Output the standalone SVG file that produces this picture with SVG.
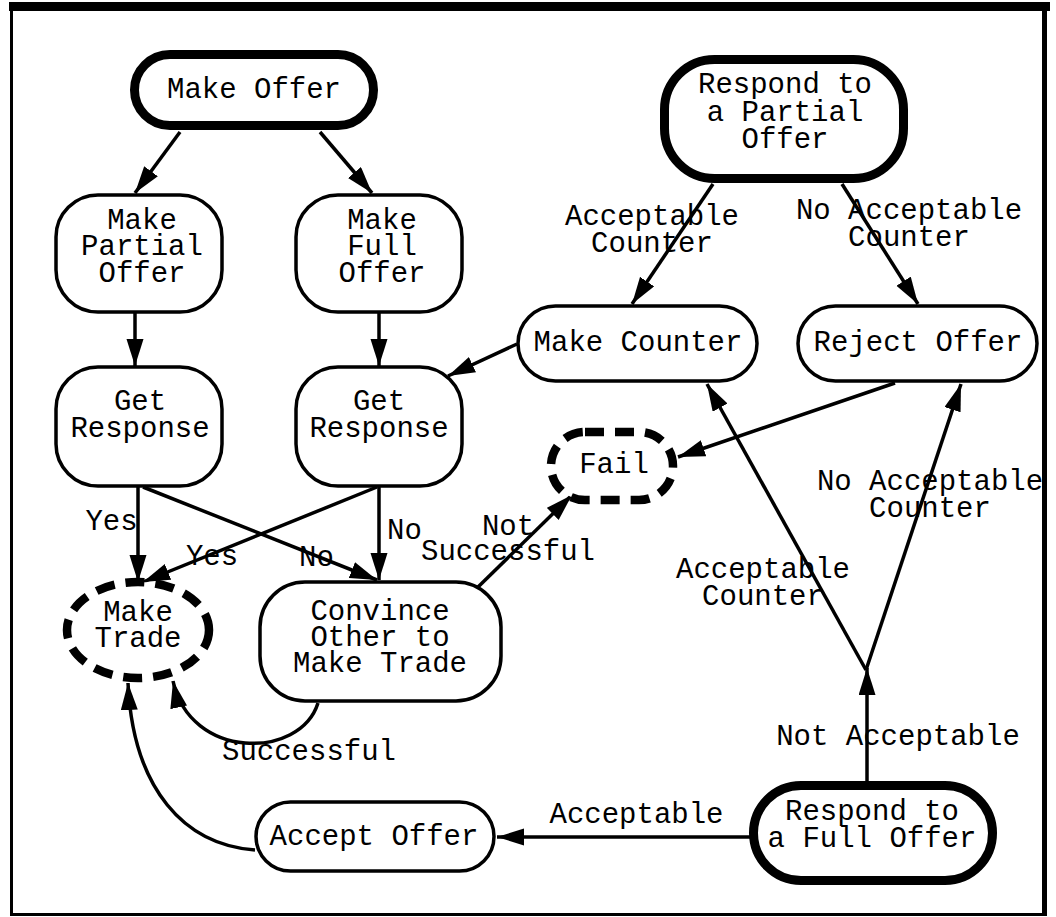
<svg xmlns="http://www.w3.org/2000/svg" width="1056" height="917" viewBox="0 0 1056 917">
<defs>
<style>
.t{font-family:"Liberation Mono","Courier New",monospace;font-size:29px;fill:#000;text-anchor:middle}
.n{fill:#fff;stroke:#000;stroke-width:3.5}
.b{fill:#fff;stroke:#000;stroke-width:9}
.d{fill:#fff;stroke:#000;stroke-width:8.5;stroke-dasharray:19 11}
.c{fill:none;stroke:#000;stroke-width:3.5}
</style>
<marker id="ah" markerUnits="userSpaceOnUse" markerWidth="28" markerHeight="18" refX="27" refY="8.5" orient="auto" viewBox="0 0 28 18">
<path d="M0,0 L27,8.5 L0,17 z" fill="#000"/>
</marker>
</defs>
<rect x="0" y="0" width="1056" height="917" fill="#fff"/>
<g id="frame">
<rect x="11.5" y="8" width="1032" height="906.5" fill="none" stroke="#000" stroke-width="3"/>
<rect x="9" y="2" width="1041" height="9" fill="#000"/>
<rect x="1042" y="2" width="5" height="914" fill="#000"/>
</g>
<g id="connectors">
<path class="c" marker-end="url(#ah)" d="M180,132 L135,193"/>
<path class="c" marker-end="url(#ah)" d="M320,132 L372,193"/>
<path class="c" marker-end="url(#ah)" d="M135,313 L135,366"/>
<path class="c" marker-end="url(#ah)" d="M379,313 L379,366"/>
<path class="c" marker-end="url(#ah)" d="M138,487 L138,582"/>
<path class="c" marker-end="url(#ah)" d="M143,487 L377,580"/>
<path class="c" marker-end="url(#ah)" d="M377,487 L143,582"/>
<path class="c" marker-end="url(#ah)" d="M379,487 L379,580"/>
<path class="c" marker-end="url(#ah)" d="M477,588 L572,495"/>
<path class="c" marker-end="url(#ah)" d="M318,703 C300,760 190,760 173,681"/>
<path class="c" marker-end="url(#ah)" d="M713,184 L632,304"/>
<path class="c" marker-end="url(#ah)" d="M842,184 L918,304"/>
<path class="c" marker-end="url(#ah)" d="M517,344 L448,376"/>
<path class="c" marker-end="url(#ah)" d="M895,383 L678,457"/>
<path class="c" marker-end="url(#ah)" d="M867,782 L867,668"/>
<path class="c" marker-end="url(#ah)" d="M866,670 L707,384"/>
<path class="c" marker-end="url(#ah)" d="M866,670 L961,384"/>
<path class="c" marker-end="url(#ah)" d="M750,837 L497,837"/>
<path class="c" marker-end="url(#ah)" d="M255,850 C185,845 133,790 128,683"/>
<text class="t" x="111.5" y="530">Yes</text>
<text class="t" x="212" y="565">Yes</text>
<text class="t" x="316.5" y="566">No</text>
<text class="t" x="404.5" y="539">No</text>
<text class="t" x="508" y="535">Not</text>
<text class="t" x="508" y="560">Successful</text>
<text class="t" x="309" y="760">Successful</text>
<text class="t" x="652" y="225">Acceptable</text>
<text class="t" x="652" y="252">Counter</text>
<text class="t" x="909" y="219">No Acceptable</text>
<text class="t" x="909" y="246">Counter</text>
<text class="t" x="930" y="490">No Acceptable</text>
<text class="t" x="930" y="517">Counter</text>
<text class="t" x="763" y="578">Acceptable</text>
<text class="t" x="763" y="605">Counter</text>
<text class="t" x="898" y="745">Not Acceptable</text>
<text class="t" x="636.5" y="823">Acceptable</text>
</g>
<g id="make-offer">
<rect class="b" x="134.5" y="54.5" width="239" height="71" rx="35.5"/>
<text class="t" x="254" y="98">Make Offer</text>
</g>
<g id="make-partial-offer">
<rect class="n" x="56" y="195" width="166" height="117" rx="42"/>
<text class="t" x="142" y="229">Make</text>
<text class="t" x="142" y="255">Partial</text>
<text class="t" x="142" y="282">Offer</text>
</g>
<g id="make-full-offer">
<rect class="n" x="296" y="195" width="166" height="117" rx="42"/>
<text class="t" x="382" y="229">Make</text>
<text class="t" x="382" y="255">Full</text>
<text class="t" x="382" y="282">Offer</text>
</g>
<g id="get-response-left">
<rect class="n" x="56" y="367" width="166" height="119" rx="42"/>
<text class="t" x="140" y="410">Get</text>
<text class="t" x="140" y="437">Response</text>
</g>
<g id="get-response-right">
<rect class="n" x="296" y="367" width="166" height="119" rx="42"/>
<text class="t" x="379" y="410">Get</text>
<text class="t" x="379" y="437">Response</text>
</g>
<g id="make-trade">
<ellipse class="d" cx="138" cy="630" rx="71" ry="48"/>
<text class="t" x="138" y="621">Make</text>
<text class="t" x="138" y="647">Trade</text>
</g>
<g id="convince">
<rect class="n" x="260" y="582" width="241" height="119" rx="45"/>
<text class="t" x="380" y="620">Convince</text>
<text class="t" x="380" y="646">Other to</text>
<text class="t" x="380" y="672">Make Trade</text>
</g>
<g id="fail">
<rect class="d" x="551" y="432" width="122" height="68" rx="34"/>
<text class="t" x="614" y="473">Fail</text>
</g>
<g id="respond-partial">
<rect class="b" x="664.5" y="59.5" width="239" height="119" rx="50"/>
<text class="t" x="785" y="93">Respond to</text>
<text class="t" x="785" y="121">a Partial</text>
<text class="t" x="785" y="148">Offer</text>
</g>
<g id="make-counter">
<rect class="n" x="518" y="306" width="239" height="75" rx="37.5"/>
<text class="t" x="638" y="351">Make Counter</text>
</g>
<g id="reject-offer">
<rect class="n" x="798" y="306" width="239" height="75" rx="37.5"/>
<text class="t" x="918" y="351">Reject Offer</text>
</g>
<g id="accept-offer">
<rect class="n" x="256" y="802" width="238" height="69" rx="34.5"/>
<text class="t" x="374" y="845">Accept Offer</text>
</g>
<g id="respond-full">
<rect class="b" x="753.5" y="785.5" width="239" height="95" rx="47.5"/>
<text class="t" x="872" y="820">Respond to</text>
<text class="t" x="872" y="847">a Full Offer</text>
</g>
</svg>
